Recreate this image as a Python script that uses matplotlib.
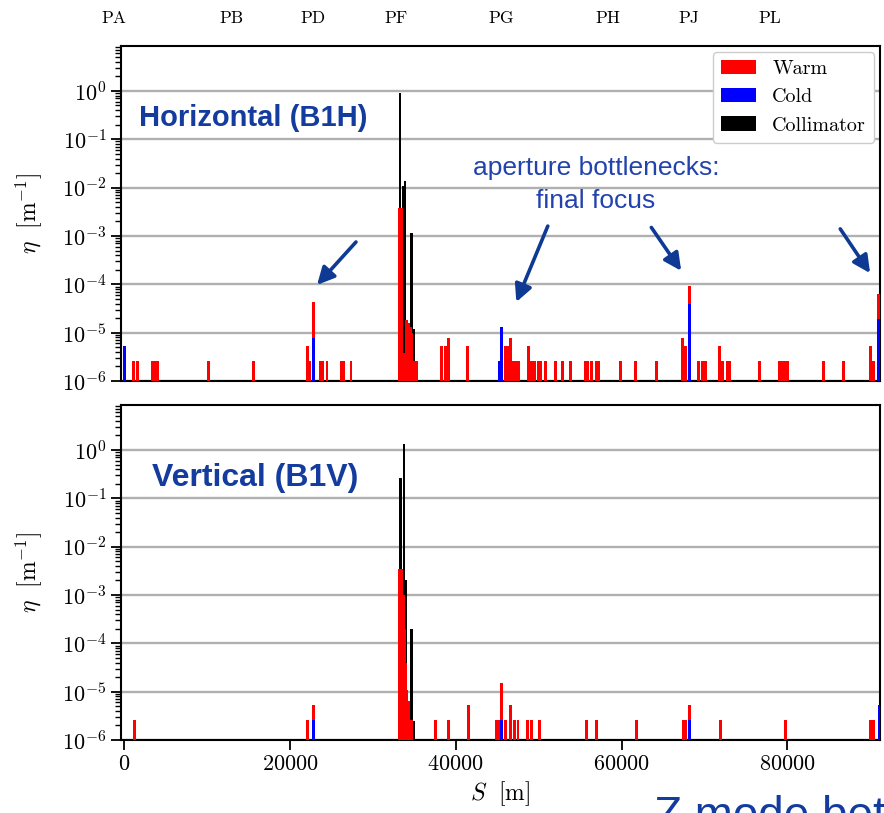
import matplotlib.pyplot as plt
import matplotlib.transforms as mtransforms
from matplotlib.ticker import LogLocator, NullFormatter

plt.rcParams['font.family'] = 'serif'
plt.rcParams['font.serif'] = ['cmr10']
plt.rcParams['mathtext.fontset'] = 'cm'
plt.rcParams['axes.formatter.use_mathtext'] = True

# interaction points along the ring [m]
ip_names = ['PA', 'PB', 'PD', 'PF', 'PG', 'PH', 'PJ', 'PL']
ip_pos = [-1300, 12900, 22800, 32800, 45500, 58400, 68100, 77900]

# ---- horizontal halo (B1H) ----
h_warm_s = [1050, 1600, 3350, 3650, 3950, 10200, 15600, 22050, 22400, 22850,
            23650, 23950, 24450, 26200, 26500, 27350,
            33250, 33500, 33800, 34050, 34300, 34500, 34700, 34950, 35250,
            38230, 38700, 39150, 41360,
            46000, 46300, 46600, 46950, 47250, 47550,
            48800, 49150, 49450, 49950, 50250, 50850, 52050, 52900, 53850,
            55650, 55950, 56400, 56950, 57250, 59900, 61700, 64200,
            67400, 67700, 68200, 69300, 69800, 70100, 71800, 72150, 72750, 73050,
            76600, 79100, 79400, 79800, 80050, 84400, 86800, 90100, 90400, 91000]
h_warm_eta = [2.6e-6, 2.6e-6, 2.6e-6, 2.6e-6, 2.6e-6, 2.6e-6, 2.6e-6, 5.2e-6, 2.6e-6, 4.4e-5,
              2.6e-6, 2.6e-6, 2.6e-6, 2.6e-6, 2.6e-6, 2.6e-6,
              3.7e-3, 3.7e-3, 3.8e-6, 1.8e-5, 1.6e-5, 1.3e-5, 1.0e-5, 2.6e-6, 2.6e-6,
              5.2e-6, 5.2e-6, 7.8e-6, 5.2e-6,
              5.2e-6, 5.2e-6, 7.8e-6, 2.6e-6, 2.6e-6, 2.6e-6,
              5.2e-6, 2.6e-6, 2.6e-6, 2.6e-6, 2.6e-6, 2.6e-6, 2.6e-6, 2.6e-6, 2.6e-6,
              2.6e-6, 2.6e-6, 2.6e-6, 2.6e-6, 2.6e-6, 2.6e-6, 2.6e-6, 2.6e-6,
              7.8e-6, 5.2e-6, 9.3e-5, 2.6e-6, 2.6e-6, 2.6e-6, 5.2e-6, 2.6e-6, 2.6e-6, 2.6e-6,
              2.6e-6, 2.6e-6, 2.6e-6, 2.6e-6, 2.6e-6, 2.6e-6, 2.6e-6, 5.2e-6, 2.6e-6, 6.3e-5]
h_cold_s = [0, 22850, 45250, 45550, 68200, 91000]
h_cold_eta = [5.2e-6, 7.9e-6, 2.6e-6, 1.3e-5, 3.9e-5, 1.9e-5]
h_coll_s = [33250, 33650, 33850, 34650, 34850]
h_coll_eta = [0.9, 0.011, 0.014, 1.15e-3, 1.2e-5]

# ---- vertical halo (B1V) ----
v_warm_s = [1170, 22150, 22850,
            33250, 33500, 33700, 33800, 33900, 34100, 34350, 34650,
            37500, 39100, 41500, 44850, 45150, 45550, 45950, 46600, 47100, 47500,
            48700, 49100, 50100, 55800, 57000, 61800, 67450, 67750, 68200,
            71900, 79800, 90000, 90400]
v_warm_eta = [2.6e-6, 2.6e-6, 5.2e-6,
              3.5e-3, 3.5e-3, 1.0e-3, 2.0e-4, 4.0e-5, 1.1e-5, 6.5e-6, 2.6e-6,
              2.6e-6, 2.6e-6, 5.2e-6, 2.6e-6, 2.6e-6, 1.5e-5, 2.6e-6, 5.2e-6, 2.6e-6, 2.6e-6,
              2.6e-6, 2.6e-6, 2.6e-6, 2.6e-6, 2.6e-6, 2.6e-6, 2.6e-6, 2.6e-6, 5.2e-6,
              2.6e-6, 2.6e-6, 2.6e-6, 2.6e-6]
v_cold_s = [22850, 45550, 68200, 91100]
v_cold_eta = [2.6e-6, 2.6e-6, 2.6e-6, 5.2e-6]
v_coll_s = [33300, 33750, 33950, 34650, 34900]
v_coll_eta = [0.26, 1.3, 2.0e-3, 2.0e-4, 2.5e-6]

TITLE_BLUE = '#143c9e'
NOTE_BLUE = '#2243ad'
ARROW_BLUE = '#0e3a94'

fig = plt.figure(figsize=(8.84, 8.13), dpi=100)
ax1 = fig.add_axes([0.137, 0.5314, 0.8585, 0.412])
ax2 = fig.add_axes([0.137, 0.0898, 0.8585, 0.412], sharex=ax1)


def loss_map(ax, warm_s, warm_eta, cold_s, cold_eta, coll_s, coll_eta):
    ax.bar(coll_s, coll_eta, width=330, color='black', log=True, label='Collimator', zorder=2)
    ax.bar(warm_s, warm_eta, width=350, color='red', log=True, label='Warm', zorder=3)
    ax.bar(cold_s, cold_eta, width=350, color='blue', log=True, label='Cold', zorder=4)
    ax.set_yscale('log')
    ax.set_ylim(1e-6, 8.5)
    ax.set_xlim(-400, 91200)
    ax.grid(axis='y', which='major', color='#b0b0b0', lw=1.7, zorder=0)
    ax.set_axisbelow(True)
    ax.yaxis.set_major_locator(LogLocator(base=10, numticks=10))
    ax.yaxis.set_minor_locator(LogLocator(base=10, subs=range(2, 10), numticks=100))
    ax.yaxis.set_minor_formatter(NullFormatter())
    for sp in ax.spines.values():
        sp.set_linewidth(1.5)
    ax.tick_params(axis='both', which='major', labelsize=16, length=7, width=1.3)
    ax.tick_params(axis='y', which='minor', length=4, width=1.0)
    ax.set_ylabel(r'$\eta\ \ [\mathrm{m}^{-1}]$', fontsize=17)
    ax.yaxis.set_label_coords(-0.102, 0.5)


loss_map(ax1, h_warm_s, h_warm_eta, h_cold_s, h_cold_eta, h_coll_s, h_coll_eta)
loss_map(ax2, v_warm_s, v_warm_eta, v_cold_s, v_cold_eta, v_coll_s, v_coll_eta)

ax1.tick_params(axis='x', length=0, labelbottom=False)
ax2.set_xlabel(r'$S\ \ [\mathrm{m}]$', fontsize=17)

# legend order: Warm, Cold, Collimator
handles, labels = ax1.get_legend_handles_labels()
order = [labels.index(n) for n in ['Warm', 'Cold', 'Collimator']]
ax1.legend([handles[i] for i in order], [labels[i] for i in order],
           loc='upper right', fontsize=14.5, handlelength=1.75, handleheight=0.7,
           borderaxespad=0.3, framealpha=1.0)

ax1.text(0.174, 0.785, 'Horizontal (B1H)', transform=ax1.transAxes, ha='center', va='center',
         fontsize=21, fontweight='bold', color=TITLE_BLUE, family='Liberation Sans')
ax2.text(0.177, 0.782, 'Vertical (B1V)', transform=ax2.transAxes, ha='center', va='center',
         fontsize=23, fontweight='bold', color=TITLE_BLUE, family='Liberation Sans')

ax1.text(56900, 0.0115, 'aperture bottlenecks:\nfinal focus', ha='center', va='center',
         fontsize=19, color=NOTE_BLUE, family='Liberation Sans', linespacing=1.45)

arrows = [((27950, 7.5e-4), (23250, 9.7e-5)),
          ((51100, 1.6e-3), (47300, 4.3e-5)),
          ((63600, 1.5e-3), (67200, 1.9e-4)),
          ((86400, 1.4e-3), (90000, 1.7e-4))]
for tail, head in arrows:
    ax1.annotate('', xy=head, xytext=tail,
                 arrowprops=dict(arrowstyle='-|>', lw=2.6, color=ARROW_BLUE,
                                 mutation_scale=26, shrinkA=0, shrinkB=0))

# IP names along the top
trans = mtransforms.blended_transform_factory(ax1.transData, fig.transFigure)
for name, s in zip(ip_names, ip_pos):
    ax1.text(s, 0.978, name, transform=trans, ha='center', va='center',
             fontsize=12.5, clip_on=False)

fig.text(0.740, -0.0197, 'Z mode betatron', fontsize=33, color=TITLE_BLUE,
         family='Liberation Sans', va='baseline')

fig.savefig('out.png', dpi=100)
